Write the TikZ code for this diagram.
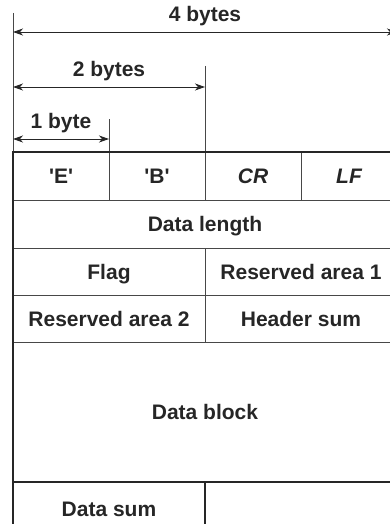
\documentclass[tikz,border=0pt]{standalone}
\usepackage{fontspec}
\setmainfont{Liberation Sans}
\usetikzlibrary{arrows.meta}
\definecolor{rulegray}{RGB}{38,38,38}
\definecolor{gridgray}{RGB}{72,72,72}

\begin{document}
\begin{tikzpicture}[>={Stealth[length=10pt,width=7pt,inset=3pt]}, x=1pt, y=-1pt,
  every node/.style={font=\fontsize{21}{25}\selectfont\bfseries, text=rulegray, inner sep=0pt},
  cell/.style={text depth=0pt},
  gridline/.style={draw=gridgray, line width=0.8pt},
  frameline/.style={draw=rulegray, line width=1.9pt},
  dimline/.style={draw=rulegray, line width=0.9pt, <->}]
\path[use as bounding box, clip] (0,0) rectangle (390,524);

% width marks
\draw[gridline] (13,13) -- (13,152);
\draw[gridline] (109,119) -- (109,152);
\draw[gridline] (205,66) -- (205,152);
\coordinate (fourL) at (13,32);
\coordinate (fourR) at (397,32);
\coordinate (twoL) at (13,87);
\coordinate (twoR) at (205,87);
\coordinate (oneL) at (13,139);
\coordinate (oneR) at (109,139);
\draw[dimline] (fourL) -- (fourR) node[midway,above=6pt] (lblfour) {4 bytes};
\draw[dimline] (twoL) -- (twoR) node[midway,above=6pt] (lbltwo) {2 bytes};
\draw[dimline] (oneL) -- (oneR) node[midway,above=6pt] (lblone) {1 byte};

% header grid
\draw[gridline] (13,200) -- (397,200);
\draw[gridline] (13,248) -- (397,248);
\draw[gridline] (13,295) -- (397,295);
\draw[gridline] (13,342) -- (397,342);
\draw[gridline] (109,152) -- (109,200);
\draw[gridline] (205,152) -- (205,200);
\draw[gridline] (301,152) -- (301,200);
\draw[gridline] (205,248) -- (205,342);
\draw[gridline] (397,152) -- (397,540);

% frame
\draw[frameline, line width=1.4pt] (12,152) -- (398,152);
\draw[frameline] (13,151) -- (13,540);
\draw[frameline] (13,482) -- (397,482);
\draw[frameline] (205,482) -- (205,540);

% fields
\node[cell] (cellE) at (61,176) {\textquotesingle E\textquotesingle};
\node[cell] (cellB) at (157,176) {\textquotesingle B\textquotesingle};
\node[cell] (cellCR) at (253,176) {\itshape CR};
\node[cell] (cellLF) at (349,176) {\itshape LF};
\node[cell] (datalen) at (205,224) {Data length};
\node[cell] (flag) at (109,271.5) {Flag};
\node[cell] (resone) at (301,271.5) {Reserved area 1};
\node[cell] (restwo) at (109,318.5) {Reserved area 2};
\node[cell] (hdrsum) at (301,318.5) {Header sum};
\node[cell] (datablk) at (205,412) {Data block};
\node[cell] (datasum) at (109,509) {Data sum};
\end{tikzpicture}
\end{document}
